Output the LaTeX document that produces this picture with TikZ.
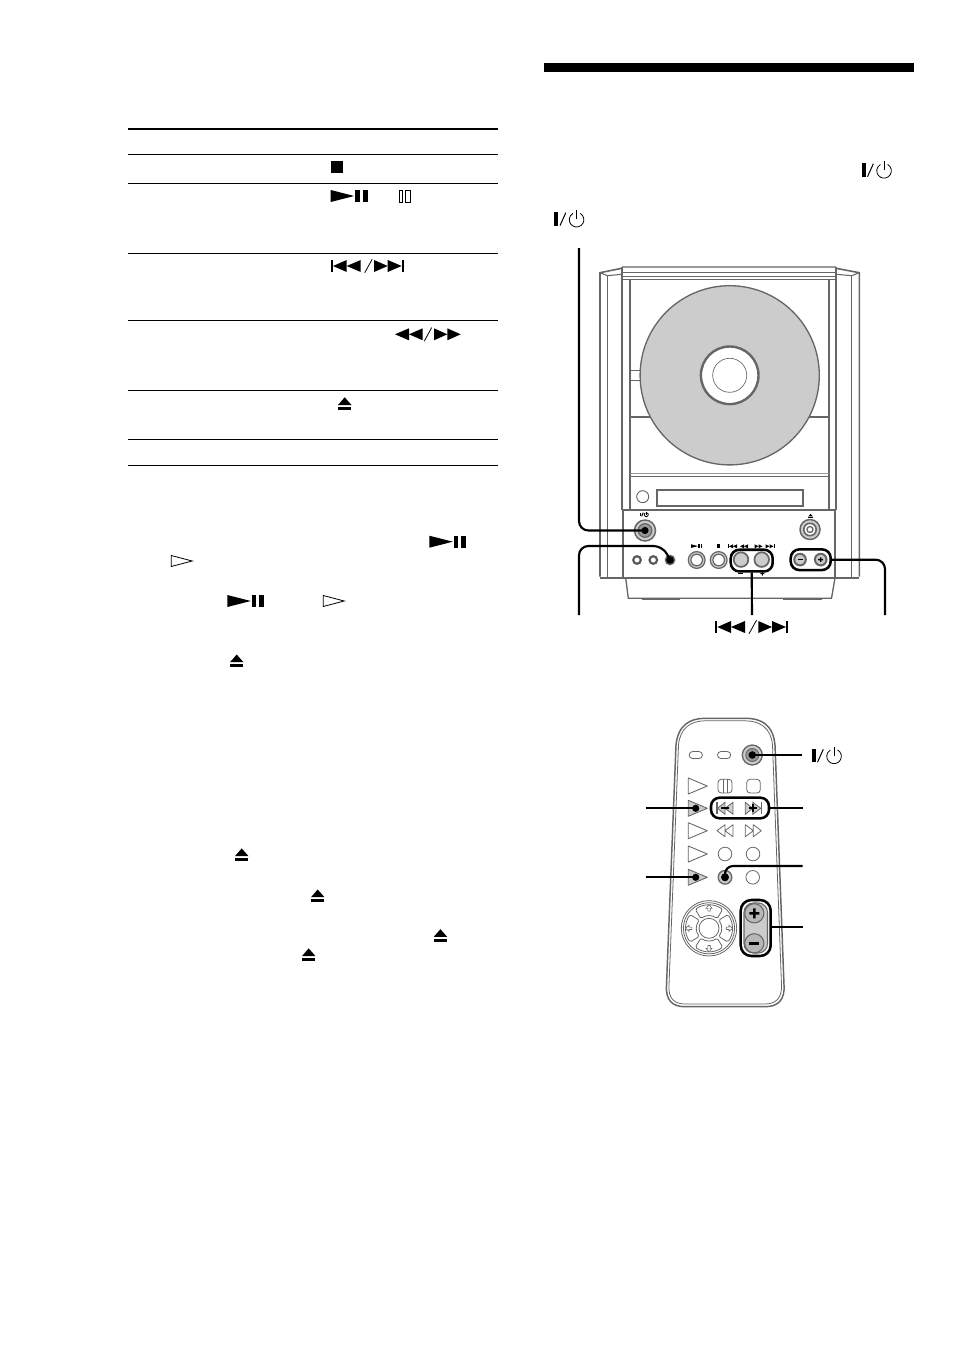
\documentclass[tikz,border=0pt]{standalone}
\usetikzlibrary{calc}
\definecolor{gline}{HTML}{666666}
\definecolor{gfill}{HTML}{CCCCCC}
\definecolor{gmid}{HTML}{999999}
\tikzset{
  x=0.75pt,y=-0.75pt,
  rule/.style={line width=0.75pt,black},
  body/.style={draw=gline,line width=1.2pt},
  bodythin/.style={draw=gline,line width=0.6pt},
  leader/.style={draw=black,line width=1.6pt},
  frame/.style={draw=black,line width=1.9pt,rounded corners=6.5pt},
  pics/playpause/.style={code={
    \fill (0,0)--(23.5,6)--(0,12)--cycle;
    \fill (24.5,0) rectangle (29,12);
    \fill (32,0) rectangle (37,12);}},
  pics/hollowplay/.style={code={
    \draw[line width=0.6pt] (0.5,0.5)--(21.5,6)--(0.5,11.5)--cycle;}},
  pics/hollowpause/.style={code={
    \draw[line width=0.5pt] (0,0) rectangle (3,12) (6.5,0) rectangle (11.5,12);}},
  pics/skip/.style={code={
    \fill (0,0) rectangle (2,12);
    \fill (16,0)--(2.3,6)--(16,12)--cycle;
    \fill (30,0)--(16,6)--(30,12)--cycle;
    \draw[line width=0.6pt] (34,12.8)--(41.5,-0.8);
    \fill (43.3,0)--(57,6)--(43.3,12)--cycle;
    \fill (57,0)--(71,6)--(57,12)--cycle;
    \fill (71,0) rectangle (73.3,12);}},
  pics/wind/.style={code={
    \fill (14,0)--(0,6)--(14,12)--cycle;
    \fill (27.7,0)--(14,6)--(27.7,12)--cycle;
    \draw[line width=0.6pt] (29.3,12.8)--(36.7,-0.8);
    \fill (39,0)--(52.3,6)--(39,12)--cycle;
    \fill (52.3,0)--(65.7,6)--(52.3,12)--cycle;}},
  pics/eject/.style={code={
    \fill (6.7,0)--(13.5,7.7)--(0,7.7)--cycle;
    \fill (0.3,9.6) rectangle (13.2,12.3);}},
  pics/standby/.style={code={
    \fill (0,0) rectangle (4,13.4);
    \draw[line width=0.75pt] (5.8,13.4)--(11.6,0.5);
    \draw[line width=0.6pt] (26,1.2) arc[start angle=-60,end angle=240,radius=7.3];
    \draw[line width=0.6pt] (22.3,-2.2)--(22.3,7.2);}},
  pics/remplay/.style={code={
    \draw[bodythin,line width=0.65pt,fill=#1,line join=round] (0,-8)--(19,0)--(0,8)--cycle;}},
  pics/remplay/.default=white,
  pics/remskipl/.style={code={
    \draw[bodythin,fill=gfill] (8,-6)--(0.5,0)--(8,6)--cycle (16,-6)--(8,0)--(16,6)--cycle;
    \draw[bodythin,line width=1pt] (0,-6)--(0,6);
    \fill (4,-1) rectangle (12,1);}},
  pics/remskipr/.style={code={
    \draw[bodythin,fill=gfill] (0,-6)--(7.5,0)--(0,6)--cycle (7.5,-6)--(15.5,0)--(7.5,6)--cycle;
    \draw[bodythin,line width=1pt] (16,-6)--(16,6);
    \fill (4,-1) rectangle (12,1);
    \fill (7,-4) rectangle (9,4);}},
  pics/remwindl/.style={code={
    \draw[bodythin,line join=round] (8,-6)--(0,0)--(8,6)--cycle (16,-6)--(8,0)--(16,6)--cycle;}},
  pics/remwindr/.style={code={
    \draw[bodythin,line join=round] (0,-6)--(8,0)--(0,6)--cycle (8,-6)--(16,0)--(8,6)--cycle;}},
  pics/dpadkey/.style={code={
    \draw[bodythin,rounded corners=1.2pt,fill=white]
      (-40:12.5) arc[start angle=-40,end angle=40,radius=12.5] -- (36:23.3)
      arc[start angle=36,end angle=-36,radius=23.3] -- cycle;
    \draw[bodythin,line width=0.45pt,fill=white] (23.6,0)--(20,-3)--(20,-1.2)--(17.2,-1.2)--(17.2,1.2)--(20,1.2)--(20,3)--cycle;}},
}
\begin{document}
\begin{tikzpicture}
\useasboundingbox (0,0) rectangle (954,1352);
% ---------- table rules
\draw[black,line width=1.5pt] (128,129)--(498,129);
\foreach \yy in {154.5,183.5,253.5,320.5,390.5,439.5,465.5}
  \draw[rule] (128,\yy)--(498,\yy);
% table icons
\fill (330.7,160.7) rectangle (342.7,172.7);
\pic at (330.7,190) {playpause};
\pic at (399.3,190) {hollowpause};
\pic at (330.7,260) {skip};
\pic at (395,328.3) {wind};
\pic at (338,397.3) {eject};
% text icons
\pic at (429.3,535.7) {playpause};
\pic at (170.7,555) {hollowplay};
\pic at (227.3,595) {playpause};
\pic at (322.7,595) {hollowplay};
\pic at (230,654.5) {eject};
\pic at (235,848.4) {eject};
\pic at (311,889.5) {eject};
\pic at (433.7,929.2) {eject};
\pic at (302,948.4) {eject};
% header bar
\fill (544,63) rectangle (914,72);
% standby icons
\pic at (861.7,163.3) {standby};
\pic at (554.2,212.2) {standby};
\pic at (811.7,748.8) {standby};
% ---------- CD player
\draw[body] (621.7,268.3) -- (600,272.7) -- (600,576.7);
\draw[body] (836,268.3) -- (859.3,272.7) -- (859.3,576.7);
\draw[bodythin,line width=0.8pt] (600,272.7)--(607.5,275.7)--(621.7,274.3);
\draw[bodythin,line width=0.8pt] (859.3,272.7)--(851.7,275.7)--(836,274.3);
\draw[bodythin,line width=0.8pt] (607.7,275.7)--(607.7,576.7) (851.7,275.7)--(851.7,576.7);
\draw[draw=gmid,line width=1.3pt] (622,267)--(836,267);
\draw[body,line width=1pt] (622,272.7)--(836,272.7);
\draw[bodythin] (622,276)--(836,276);
\draw[body,line width=1pt] (622,279.3)--(836,279.3);
\draw[body] (622,267)--(622,510) (630,279.3)--(630,510);
\draw[body] (829,279.3)--(829,510) (836,267)--(836,510);
% compartments
\draw[bodythin] (630.7,370) rectangle (640,380);
\draw[body,line width=1pt] (630,417)--(829,417);
\draw[draw=gmid,line width=1pt] (630,473.5)--(829,473.5);
\draw[body,line width=1pt] (630,476.5)--(829,476.5);
% disc
\draw[draw=gline,line width=1pt,fill=gfill] (729.7,375.3) circle[radius=89.6];
\draw[draw=gline,line width=1.8pt,fill=white] (729.7,375.3) circle[radius=28.8];
\draw[bodythin,line width=0.5pt] (729.7,375.3) circle[radius=17];
% tray
\draw[bodythin,line width=0.7pt] (642.7,496.7) circle[radius=6];
\draw[draw=gline,line width=1.5pt] (656.5,489.5) rectangle (803,505.5);
% front panel
\draw[draw=gline,line width=2pt,fill=white] (623,578) -- (623,510) -- (835,510) -- (835,578);
\draw[draw=gline,line width=1.5pt] (600,577.5)--(859.3,577.5);
\draw[body,line width=1pt] (625.7,578)--(628.3,598.3)--(831.5,598.3)--(835,578);
\draw[draw=gline,line width=1.1pt] (641.7,599.6)--(680,599.6) (783,599.6)--(821.7,599.6);
% panel small labels
\pic[scale=0.28] at (640,512.5) {standby};
\pic[scale=0.35] at (808.2,513.8) {eject};
\pic[scale=0.3] at (691,544.3) {playpause};
\fill (716.7,544.3) rectangle (720.4,548);
\fill (728,544.3) rectangle (728.7,548.3);
\foreach \xx in {729,733,740,744}
  \fill (\xx+4,544.3)--(\xx,546.3)--(\xx+4,548.3)--cycle;
\foreach \xx in {754.5,758.5,765.5,769.5}
  \fill (\xx,544.3)--(\xx+4,546.3)--(\xx,548.3)--cycle;
\fill (774,544.3) rectangle (774.7,548.3);
\fill (738,573) rectangle (742.5,574);
\fill (760.3,573.2) rectangle (764.3,574.2) (761.8,571.7) rectangle (762.8,575.7);
% panel knobs
\draw[draw=gline,line width=1.1pt,fill=gfill] (645,530.5) circle[radius=10.5];
\draw[draw=gline,line width=0.9pt,fill=gmid] (645,530.5) circle[radius=6.8];
\draw[draw=gline,line width=1.1pt,fill=gfill] (810,529.5) circle[radius=10];
\draw[draw=gline,line width=1.2pt,fill=white] (810,529.5) circle[radius=6.2];
\draw[draw=gline,line width=1pt,fill=white] (810,529.5) circle[radius=3];
\foreach \xx in {637,653.3}{
  \draw[draw=gline!85!black,line width=1.6pt,fill=white] (\xx,560) circle[radius=3.8];}
\draw[draw=gline,line width=1.6pt,fill=gline] (670,560) circle[radius=4.2];
\foreach \xx in {696.7,718.7}{
  \draw[draw=gline,line width=0.9pt,fill=gfill] (\xx,560) circle[radius=8.4];
  \draw[draw=gline,line width=0.9pt,fill=white] (\xx,560) circle[radius=5.8];}
\foreach \xx in {741,761.7}{
  \draw[draw=gline,line width=1.3pt,fill=gfill] (\xx,559.6) circle[radius=7.3];}
\foreach \xx in {800,820.7}{
  \draw[draw=gline,line width=1.5pt,fill=gfill] (\xx,559.6) circle[radius=5.8];}
\fill (797.5,558.9) rectangle (802.5,560.3);
\fill (818.2,558.9) rectangle (823.2,560.3) (820,557.3) rectangle (821.4,561.9);
% player frames
\node[frame,minimum width=31.5pt,minimum height=16.3pt,inner sep=0pt] (pskip) at (751.7,560.6) {};
\node[frame,minimum width=30pt,minimum height=15.5pt,inner sep=0pt] (pvol) at (810.7,559.7) {};
% player connectors
\coordinate (ppow) at (645,530.5);
\coordinate (ppowend) at (579,248);
\fill (ppow) circle[radius=3.6];
\draw[leader,rounded corners=7pt] (ppowend) |- (ppow);
\coordinate (pjack) at (670,560);
\coordinate (pjackend) at (579,615);
\fill (pjack) circle[radius=3.8];
\draw[leader,rounded corners=7pt] (pjackend) |- (663,546) -- (670,560);
\coordinate (pskipend) at (752,615);
\draw[leader] (pskip.south) -- (pskipend);
\coordinate (pvolend) at (885,615);
\draw[leader,rounded corners=7pt] (pvol.east) -| (pvolend);
\pic at (715,621) {skip};
% ---------- remote
\draw[draw=gline,line width=1.1pt] (666.5,985) -- (676,745) .. controls (678,725) and (690,718.3) .. (705,718.3) -- (745,718.3) .. controls (762,718.3) and (773,725) .. (775,745) -- (784,985) .. controls (785,1000) and (778,1006.7) .. (765,1006.7) -- (685,1006.7) .. controls (672,1006.7) and (665.5,1000) .. (666.5,985) -- cycle;
\draw[bodythin] (669,985) -- (678.5,745) .. controls (680,728) and (691,720.8) .. (705,720.8) -- (745,720.8) .. controls (760,720.8) and (771,728) .. (772.5,745) -- (781.5,985) .. controls (782,998) and (776,1004) .. (765,1004) -- (685,1004) .. controls (674,1004) and (668,998) .. (669,985) -- cycle;
% top row
\draw[bodythin,rounded corners=2.6pt] (689.2,751.5) rectangle (702.4,758.5);
\draw[bodythin,rounded corners=2.6pt] (717.5,751.5) rectangle (730.7,758.5);
\draw[draw=gline,line width=1pt,fill=gfill] (752.3,755) circle[radius=10];
\draw[draw=gline,line width=0.7pt,fill=gmid] (752.3,755) circle[radius=6.5];
% left column
\pic at (688.3,786) {remplay};
\pic at (688.3,808.3) {remplay=gfill};
\pic at (688.3,830.7) {remplay};
\pic at (688.3,854) {remplay};
\pic at (688.3,877.3) {remplay=gfill};
% middle / right columns
\draw[bodythin,rounded corners=2.5pt] (718,779.3) rectangle (732,793);
\draw[bodythin] (723,779.3)--(723,793) (727,779.3)--(727,793);
\draw[bodythin,rounded corners=2.5pt] (746.7,779.3) rectangle (760.3,793);
\pic at (717,808.3) {remskipl};
\pic at (745.3,808.3) {remskipr};
\pic at (717,830.7) {remwindl};
\pic at (745.3,830.7) {remwindr};
\draw[bodythin] (725,854) circle[radius=6.8];
\draw[bodythin] (753,854) circle[radius=6.8];
\draw[draw=gline,line width=1pt,fill=gfill] (725,877.3) circle[radius=6.8];
\draw[bodythin] (752.7,877.3) circle[radius=6.8];
% d-pad
\draw[bodythin] (709,928.3) circle[radius=27.7];
\draw[bodythin] (709,928.3) circle[radius=25.6];
\draw[bodythin] (709,928.3) circle[radius=10];
\pic[rotate=0]   at (709,928.3) {dpadkey};
\pic[rotate=90]  at (709,928.3) {dpadkey};
\pic[rotate=180] at (709,928.3) {dpadkey};
\pic[rotate=270] at (709,928.3) {dpadkey};
% volume
\draw[draw=gline,line width=0.8pt,fill=gfill,rounded corners=7pt] (744,903) rectangle (767.5,953);
\draw[draw=gline,line width=0.8pt,fill=gmid!70!white] (754.3,913.3) circle[radius=9.6];
\draw[draw=gline,line width=0.8pt,fill=gmid!70!white] (754.3,943.3) circle[radius=9.6];
\fill (749.3,912) rectangle (759.3,914.6) (753,908.3) rectangle (755.6,918.3);
\fill (749.3,942) rectangle (759.3,944.6);
% remote frames
\node[frame,minimum width=43.5pt,minimum height=15.5pt,inner sep=0pt] (rskip) at (740,808) {};
\node[frame,rounded corners=8pt,minimum width=22.5pt,minimum height=42pt,inner sep=0pt] (rvol) at (755.7,928) {};
% remote connectors
\coordinate (rpow) at (752.3,755);
\coordinate (rpowend) at (801.7,755);
\fill (rpow) circle[radius=3.8];
\draw[leader] (rpow) -- (rpowend);
\coordinate (rl1) at (695.7,808.3);
\coordinate (rl1end) at (645.7,808.3);
\fill (rl1) circle[radius=3.6];
\draw[leader] (rl1end) -- (rl1);
\coordinate (rskipend) at (802.7,808);
\draw[leader] (rskip.east) -- (rskipend);
\coordinate (rl2) at (695.7,877.3);
\coordinate (rl2end) at (645.7,877.3);
\fill (rl2) circle[radius=3.6];
\draw[leader] (rl2end) -- (rl2);
\coordinate (rm) at (725,877.3);
\coordinate (rmend) at (802.7,866);
\fill (rm) circle[radius=4];
\draw[leader,rounded corners=6pt] (rm) |- (rmend);
\coordinate (rvolend) at (802.7,927.3);
\draw[leader] (rvol.east |- rvolend) -- (rvolend);
\end{tikzpicture}
\end{document}
